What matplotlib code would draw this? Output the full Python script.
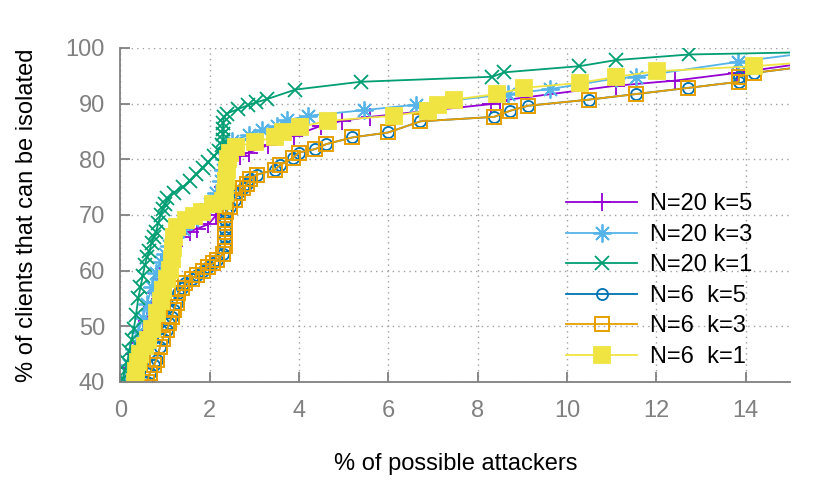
import numpy as np
from matplotlib import pyplot as plt

# % of possible attackers (x) vs % of clients that can be isolated (y)
n20k5_x = [0.1, 0.2, 0.3, 0.4, 0.5, 0.6, 0.7, 0.8, 0.9, 1.0, 1.1, 1.2, 1.35, 1.55,
           1.71, 1.97, 2.15, 2.25, 2.3, 2.32, 2.4, 2.68, 2.87, 3.3, 3.88, 4.5, 4.97,
           5.6, 8.31, 8.5, 11.1, 12.41, 13.8, 16.0]
n20k5_y = [40, 42.5, 45, 47, 49, 51, 53.5, 56, 58.5, 60.5, 62.5, 64.5, 66, 67,
           67.5, 68.3, 70, 72, 75, 78, 80, 80.5, 81.2, 82.5, 84.2, 86, 86.9,
           87.6, 89.9, 90.5, 93.2, 94.1, 95.5, 98.0]

n20k3_x = [0.1, 0.2, 0.3, 0.4, 0.5, 0.6, 0.7, 0.8, 0.9, 1.0, 1.1, 1.2, 1.4, 1.6,
           1.8, 2.0, 2.15, 2.25, 2.3, 2.32, 2.35, 2.5, 2.87, 3.17, 3.5, 3.73, 4.21,
           5.45, 6.62, 8.69, 9.63, 11.1, 11.55, 13.84, 16.0]
n20k3_y = [40, 43, 46, 49, 51.5, 54, 57, 59.5, 61.5, 63, 64.5, 66, 67.5, 69,
           70.5, 72, 74, 76, 78, 80, 82, 83.3, 84.3, 85.2, 86, 87, 87.8,
           88.8, 89.8, 91.7, 92.6, 94.5, 94.8, 97.5, 99.7]

n20k1_x = [0.05, 0.1, 0.15, 0.2, 0.25, 0.3, 0.35, 0.4, 0.45, 0.5, 0.55, 0.6, 0.65,
           0.7, 0.75, 0.8, 0.85, 0.9, 0.95, 1.0, 1.05, 1.2, 1.4, 1.55, 1.7, 1.85,
           1.97, 2.1, 2.2, 2.28, 2.3, 2.3, 2.3, 2.3, 2.32, 2.38, 2.64, 2.86, 3.04,
           3.29, 3.92, 5.38, 8.33, 8.6, 10.28, 11.1, 12.74, 16.0]
n20k1_y = [40.5, 42, 43.5, 45.5, 47.5, 49.5, 52, 55, 57, 59, 61, 62.5, 63.5,
           65, 66, 67, 68.5, 70, 71, 72, 73, 74, 75, 76, 77.3, 78.5,
           79.5, 80.5, 81.5, 82.5, 83.5, 84.5, 85.5, 86.5, 87.5, 88.2, 89, 89.7, 90.2,
           90.8, 92.5, 93.9, 94.8, 95.6, 96.7, 97.8, 98.8, 99.3]

n6k5_x = [0.6, 0.66, 0.75, 0.81, 0.89, 0.95, 1.04, 1.1, 1.15, 1.2, 1.26, 1.3, 1.38,
          1.45, 1.6, 1.71, 1.85, 1.97, 2.08, 2.16, 2.3, 2.34, 2.34, 2.34, 2.34, 2.36,
          2.45, 2.57, 2.64, 2.75, 2.83, 2.9, 3.05, 3.46, 3.58, 3.87, 3.99, 4.36, 4.61,
          5.19, 6.0, 6.72, 8.37, 8.73, 9.13, 10.5, 11.55, 12.71, 13.85, 13.85, 14.2, 16.0]
n6k5_y = [40, 41.6, 43, 44, 46.3, 47.8, 49.3, 50.5, 51.7, 53, 54.2, 55.9, 56.8,
          57.7, 58.5, 59.2, 60, 60.7, 61.3, 61.9, 63, 64.5, 66, 67.5, 69, 70.5,
          71.5, 72.7, 73.9, 74.8, 75.6, 76.4, 77.2, 78.1, 79, 80.2, 81.2, 81.8, 82.7,
          83.9, 84.8, 86.8, 87.6, 88.7, 89.6, 90.7, 91.7, 92.8, 93.9, 94.8, 95.5, 97.3]

n6k3_x = [0.6, 0.66, 0.75, 0.81, 0.89, 0.95, 1.04, 1.1, 1.15, 1.2, 1.26, 1.3, 1.38,
          1.45, 1.6, 1.71, 1.85, 1.97, 2.08, 2.16, 2.3, 2.34, 2.34, 2.34, 2.34, 2.36,
          2.45, 2.57, 2.64, 2.75, 2.83, 2.9, 3.05, 3.46, 3.58, 3.87, 3.99, 4.36, 4.61,
          5.19, 6.0, 6.72, 8.37, 8.73, 9.13, 10.5, 11.55, 12.71, 13.85, 13.85, 14.2, 16.0]
n6k3_y = [40, 41.6, 43, 44, 46.3, 47.8, 49.3, 50.5, 51.7, 53, 54.2, 55.9, 56.8,
          57.7, 58.5, 59.2, 60, 60.7, 61.3, 61.9, 63, 64.5, 66, 67.5, 69, 70.5,
          71.5, 72.7, 73.9, 74.8, 75.6, 76.4, 77.2, 78.1, 79, 80.2, 81.2, 81.8, 82.7,
          83.9, 84.8, 86.8, 87.6, 88.7, 89.6, 90.7, 91.7, 92.8, 93.9, 94.8, 95.5, 97.3]

n6k1_x = [0.33, 0.35, 0.4, 0.45, 0.55, 0.62, 0.7, 0.81, 0.9, 0.96, 1.05, 1.11, 1.15,
          1.18, 1.2, 1.26, 1.48, 1.65, 1.82, 2.08, 2.3, 2.35, 2.37, 2.38, 2.4, 2.45,
          2.6, 3.02, 3.46, 3.65, 4.03, 4.66, 6.12, 6.88, 7.12, 7.47, 8.43, 9.03, 10.3,
          11.1, 12.02, 14.2, 16.0]
n6k1_y = [40, 42, 43.5, 45, 46.5, 47.5, 49.5, 52.4, 54.5, 56.5, 58.5, 60.1, 62,
          64, 66, 67.9, 69, 69.8, 70.6, 72, 72.5, 74, 76, 78, 80, 81.2,
          82.2, 83.1, 84, 84.9, 85.8, 86.9, 87.8, 88.7, 89.8, 90.7, 91.7, 92.8, 93.7,
          94.8, 95.8, 96.7, 97.8]

plt.rcParams['font.family'] = ['Liberation Sans', 'DejaVu Sans']
plt.rcParams['font.size'] = 17

fig = plt.figure(figsize=(8.3, 4.98), dpi=100)
ax = fig.add_axes([0.145, 0.233, 0.807, 0.671])

ax.plot(n20k5_x, n20k5_y, color='#9400d3', lw=1.3, marker='+', ms=13, mew=1.3,
        label='N=20 k=5')
ax.plot(n20k3_x, n20k3_y, color='#56b4e9', lw=1.3, marker=(8, 2, 0), ms=13,
        mew=1.3, label='N=20 k=3')
ax.plot(n20k1_x, n20k1_y, color='#009e73', lw=1.3, marker='x', ms=10.5, mew=1.3,
        label='N=20 k=1')
ax.plot(n6k5_x, n6k5_y, color='#0072b2', lw=1.3, marker='o', ms=8, mew=1.3,
        mfc='none', label='N=6  k=5')
ax.plot(n6k3_x, n6k3_y, color='#e69f00', lw=1.3, marker='s', ms=10.5, mew=1.4,
        mfc='none', label='N=6  k=3')
ax.plot(n6k1_x, n6k1_y, color='#f0e442', lw=1.3, marker='s', ms=11.5, mew=1.3,
        label='N=6  k=1')

ax.set_xlim(0, 15)
ax.set_ylim(40, 100)
ax.set_xticks(range(0, 15, 2))
ax.set_yticks(range(40, 101, 10))

for side in ['top', 'right']:
    ax.spines[side].set_visible(False)
for side in ['left', 'bottom']:
    ax.spines[side].set_color('#808080')
    ax.spines[side].set_linewidth(1.3)

ax.tick_params(direction='in', length=7, width=1.3, color='#808080',
               labelcolor='#808080')
ax.tick_params(axis='x', pad=13)
ax.tick_params(axis='y', pad=11)
ax.grid(True, color='#a0a0a0', linestyle=(0, (1, 3)), linewidth=1.0)

ax.set_xlabel('% of possible attackers', labelpad=22)
ax.set_ylabel('% of clients that can be isolated', labelpad=20)

ax.legend(loc='lower right', bbox_to_anchor=(0.965, 0.0), frameon=False,
          handlelength=3.0, handletextpad=0.55, labelspacing=0.36,
          borderaxespad=0.2)

fig.savefig('out.png', dpi=100)
